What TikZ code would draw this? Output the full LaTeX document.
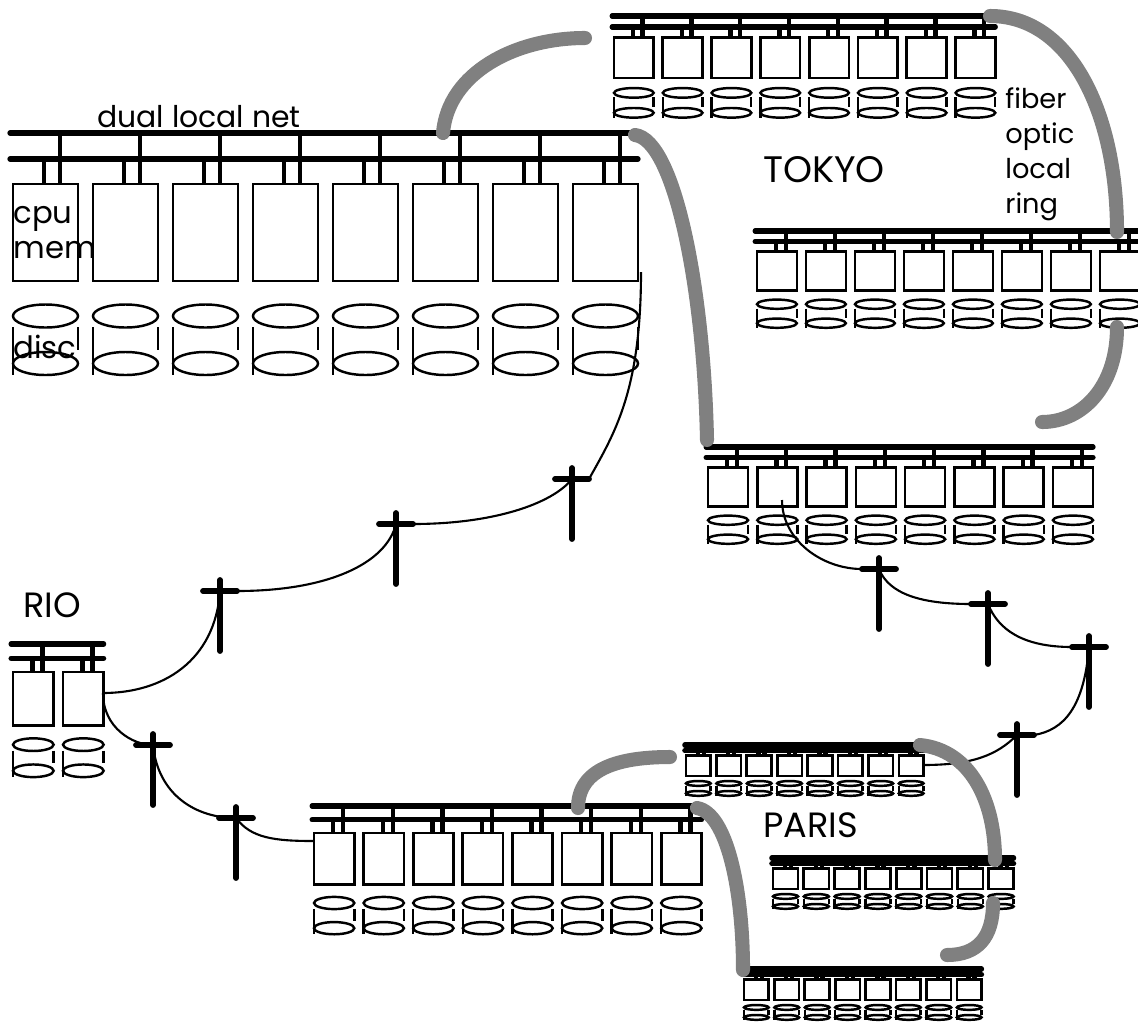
\documentclass[tikz,border=0pt]{standalone}
\usepackage{fontspec}
\setmainfont{Poppins}

\definecolor{ringgray}{RGB}{128,128,128}

\tikzset{
  bus/.style={line width=3pt, line cap=round},
  stub/.style={line width=2.5pt},
  box/.style={line width=1.5pt},
  disk/.style={line width=1.4pt},
  wire/.style={line width=1.2pt},
  ring/.style={line width=8pt, ringgray, line cap=round},
  polebar/.style={line width=3.3pt, line cap=round},
  lbl/.style={inner sep=0pt, anchor=base west},
}

% one local net: x, y, xscale, yscale, machines
\newcommand{\cluster}[5]{%
  \begin{scope}[shift={(#1,#2)}, xscale=#3, yscale=#4]
    \draw[bus] (-3,0) -- ({(#5-1)*80+65},0);
    \draw[bus] (-3,26) -- ({(#5-1)*80+65},26);
    \foreach \i in {1,...,#5} {
      \pgfmathsetmacro{\bx}{(\i-1)*80}
      \draw[stub] (\bx+31,26) -- (\bx+31,51);
      \draw[stub] (\bx+47,0) -- (\bx+47,51);
      \draw[box] (\bx,51) rectangle (\bx+65,148);
      \draw[disk] (\bx+32.5,183) ellipse [x radius=32.5, y radius=11.5];
      \draw[disk] (\bx+32.5,230.5) ellipse [x radius=32.5, y radius=11.5];
      \draw[disk] (\bx,194) -- (\bx,242);
      \draw[disk] (\bx+65,194) -- (\bx+65,217);
    }
  \end{scope}}

% telephone pole: name, x, y of the cross bar
\newcommand{\telpole}[3]{%
  \coordinate (#1) at (#2,#3);
  \coordinate (#1-l) at (#2-17,#3);
  \coordinate (#1-r) at (#2+17,#3);
  \draw[polebar] (#2-17,#3) -- (#2+17,#3);
  \draw[polebar] (#2,#3-11) -- (#2,#3+60);}

\begin{document}
\begin{tikzpicture}[x=0.02cm, y=-0.02cm]
  \useasboundingbox (0,0) rectangle (1138,1025);

  % Big site
  \cluster{13}{133}{1}{1}{8}

  % Tokyo
  \cluster{614}{16}{0.61}{0.42}{8}
  \cluster{757}{231}{0.6125}{0.40}{8}
  \cluster{708}{447}{0.616}{0.40}{8}

  % Rio
  \cluster{13}{644}{0.625}{0.55}{2}

  % Paris
  \cluster{314}{806}{0.62}{0.53}{8}
  \cluster{686}{745}{0.38}{0.21}{8}
  \cluster{773}{858}{0.385}{0.21}{8}
  \cluster{744}{969}{0.38}{0.21}{8}

  % Poles
  \telpole{pa}{572}{479}
  \telpole{pb}{396}{524}
  \telpole{pc}{220}{591}
  \telpole{pd}{153}{745}
  \telpole{pe}{236}{818}
  \telpole{pf}{879}{569}
  \telpole{pg}{988}{604}
  \telpole{ph}{1089}{647}
  \telpole{pi}{1017}{735}

  % Wire ends at the machines
  \coordinate (bigout) at (641,272);
  \coordinate (rioout) at (103,693);
  \coordinate (p1in) at (314,841);
  \coordinate (t3out) at (782,500);
  \coordinate (p2out) at (923,765);

  % Long lines
  \draw[wire] (bigout) .. controls +(0,120) and +(25,-45) .. (pa-r);
  \draw[wire] (pa) .. controls +(-20,25) and +(80,0) .. (pb-r);
  \draw[wire] (pb) .. controls +(-10,40) and +(90,0) .. (pc-r);
  \draw[wire] (pc) .. controls +(-5,70) and +(60,0) .. (rioout);
  \draw[wire] (rioout) .. controls +(0,35) and +(-20,0) .. (pd);
  \draw[wire] (pd) .. controls +(5,50) and +(-40,0) .. (pe);
  \draw[wire] (pe) .. controls +(15,20) and +(-40,0) .. (p1in);
  \draw[wire] (t3out) .. controls +(0,40) and +(-40,0) .. (pf-l);
  \draw[wire] (pf) .. controls +(10,25) and +(-50,0) .. (pg-l);
  \draw[wire] (pg) .. controls +(10,25) and +(-50,0) .. (ph-l);
  \draw[wire] (ph) .. controls +(-5,60) and +(30,-5) .. (pi-r);
  \draw[wire] (pi) .. controls +(-20,20) and +(50,0) .. (p2out);

  % Fiber ring ends
  \coordinate (ra1) at (443,133);  \coordinate (ra2) at (585,38);
  \coordinate (rb1) at (635,135);  \coordinate (rb2) at (707,440);
  \coordinate (rc1) at (990,16);   \coordinate (rc2) at (1117,232);
  \coordinate (rd1) at (1117,327); \coordinate (rd2) at (1042,422);
  \coordinate (re1) at (578,808);  \coordinate (re2) at (670,757);
  \coordinate (rf1) at (920,745);  \coordinate (rf2) at (995,860);
  \coordinate (rg1) at (993,903);  \coordinate (rg2) at (947,955);
  \coordinate (rh1) at (697,808);  \coordinate (rh2) at (743,970);

  % Tokyo ring
  \draw[ring] (ra1) .. controls +(5,-60) and +(-70,0) .. (ra2);
  \draw[ring] (rb1) .. controls +(40,5) and +(-3,-150) .. (rb2);
  \draw[ring] (rc1) .. controls +(80,0) and +(0,-120) .. (rc2);
  \draw[ring] (rd1) .. controls +(0,60) and +(40,0) .. (rd2);

  % Paris ring
  \draw[ring] (re1) .. controls +(0,-40) and +(-50,0) .. (re2);
  \draw[ring] (rf1) .. controls +(50,5) and +(0,-60) .. (rf2);
  \draw[ring] (rg1) .. controls +(0,35) and +(30,0) .. (rg2);
  \draw[ring] (rh1) .. controls +(30,5) and +(0,-80) .. (rh2);

  % Labels
  \node[lbl, font=\fontsize{17}{20}\selectfont] (netlabel) at (97,127) {dual local net};
  \node[lbl, font=\fontsize{17.5}{21}\selectfont] (cpulabel) at (13,223) {cpu};
  \node[lbl, font=\fontsize{17.5}{21}\selectfont] (memlabel) at (13,258) {mem};
  \node[lbl, font=\fontsize{17.5}{21}\selectfont] (disclabel) at (13,358) {disc};
  \node[lbl, font=\fontsize{21}{25}\selectfont] (tokyo) at (763,182) {TOKYO};
  \foreach \w [count=\k] in {fiber,optic,local,ring}
    \node[lbl, font=\fontsize{15.5}{18}\selectfont] (fol\k) at (1005,{108+35*(\k-1)}) {\w};
  \node[lbl, font=\fontsize{20}{24}\selectfont] (rio) at (23,617) {RIO};
  \node[lbl, font=\fontsize{20}{24}\selectfont] (paris) at (763,837) {PARIS};
\end{tikzpicture}
\end{document}
